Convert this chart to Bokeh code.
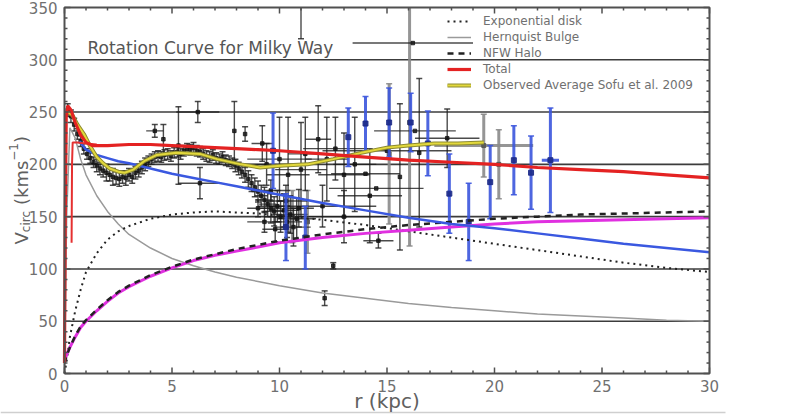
import numpy as np
from bokeh.plotting import figure
from bokeh.models import Range1d, Legend, LegendItem
from bokeh.core.properties import value
from bokeh.embed import file_html
from bokeh.resources import INLINE

# ---------------- model curves ----------------
r_model = [0, 0.1, 0.25, 0.5, 0.75, 1, 1.5, 2, 2.5, 3, 4, 5, 6, 7, 8, 9, 10,
           12, 14, 16, 18, 20, 22, 24, 26, 28, 30]
v_disk = [0, 12, 35, 60, 80, 97, 115, 128, 136, 141, 148, 152, 154, 155, 154,
          153, 151, 147, 142, 136, 130, 124, 118, 112, 106, 101, 97]
v_bulge = [0, 150, 235, 225, 205, 190, 170, 155, 143, 133, 120, 110, 103, 97,
           92, 88, 84, 77, 72, 67, 63, 60, 57, 55, 53, 51, 50]
v_halo = [10, 17, 25, 36, 45, 51, 61, 70, 78, 84, 94, 102, 109, 114, 119, 123,
          127, 133, 138, 142, 145, 148, 150, 152, 153, 154, 155]
v_halo_fit = [12, 18, 25, 35, 44, 50, 60, 69, 77, 83, 93, 101, 108, 113, 117,
              121, 125, 130, 134, 137, 140, 143, 145, 146, 147, 148, 149]

r_blue = [0.7, 0.85, 1, 1.5, 2, 2.5, 3, 4, 5, 6, 7, 8, 9, 10, 12, 14, 16, 18,
          20, 22, 24, 26, 28, 30]
v_blue = [222, 218, 214, 209, 206, 203, 201, 196, 191, 187, 183, 179, 175,
          171, 163, 156, 149, 143, 139, 134, 129, 124, 120, 116]

r_total = [0, 0.03, 0.08, 0.15, 0.3, 0.5, 0.75, 1.0, 1.3, 1.5, 2, 3, 4, 5, 6,
           7, 8, 9, 10, 12, 14, 16, 18, 20, 22, 24, 26, 28, 30]
v_total = [10, 140, 245, 256, 252, 240, 228, 221, 218, 218, 218, 219, 219,
           218, 217, 216, 215, 214, 213, 210, 207, 204, 202, 200, 197, 195,
           193, 190, 187]
r_total_b = [0.33, 0.35, 0.38, 0.6, 1.0, 1.5]
v_total_b = [125, 200, 221, 221, 220, 219]

r_obs = [0.15, 0.37, 0.6, 0.9, 1.2, 1.5, 1.8, 2.1, 2.5, 2.8, 3.2, 3.7, 4.3,
         5.2, 6.3, 7.1, 8.2, 9.1, 9.6, 10.2, 11.3, 12.5, 13.8, 15, 16, 17.2,
         18.3, 19.5]
v_obs = [250, 247, 238, 229, 217, 207, 201, 196, 193, 192, 195, 203, 209, 211,
         210, 205, 200, 197, 198, 199, 200, 205, 211, 216, 218, 220, 220, 221]

# ---------------- data points with error bars ----------------
black_r = [0.15, 0.3, 0.45, 0.6, 0.75, 0.9, 1.05, 1.2, 1.35, 1.5, 1.65, 1.8,
           1.95, 2.1, 2.25, 2.4, 2.55, 2.7, 2.85, 3.0, 3.15, 3.3, 3.45, 3.6,
           3.75, 3.9, 4.05, 4.2, 4.35, 4.5, 4.65, 4.8, 4.95, 5.1, 5.25, 5.4,
           5.55, 5.7, 5.85, 6.0, 6.15, 6.3, 6.45, 6.6, 6.75, 6.9, 7.05, 7.2,
           7.35, 7.5, 7.65, 7.8, 7.95, 8.1, 8.25, 8.4, 8.55, 8.7, 8.85, 9.0,
           9.15, 9.3, 9.45, 9.6, 9.75, 9.9, 10.05, 10.2, 10.35, 10.5, 10.65,
           10.8,
           4.2, 4.6, 5.3, 6.2, 6.3, 7.9, 8.4, 9.2, 9.4, 10.0, 10.4, 11.0, 11.2,
           11.8, 12.2, 12.6, 13.0, 13.5, 14.2, 14.6, 15.6, 16.5, 17.8, 12.1,
           12.5, 11.0, 16.2, 16.3, 15.0, 14.0, 14.5, 12.0, 13.0,
           9.3, 9.8, 10.3, 10.9, 9.0, 9.6]
black_v = [252, 246, 238, 229, 222, 215, 210, 206, 202, 199, 196, 194, 192,
           190, 188, 187, 186, 188, 187, 190, 188, 192, 194, 197, 200, 203,
           205, 207, 208, 207, 209, 210, 208, 211, 212, 210, 213, 215, 214,
           216, 213, 212, 210, 208, 207, 209, 206, 205, 207, 204, 203, 201,
           199, 196, 193, 190, 186, 182, 178, 174, 170, 166, 162, 158, 155,
           160, 150, 156, 145, 152, 140, 148,
           232, 224, 218, 250, 182, 232, 229, 220, 200, 205, 190, 195, 210,
           224, 205, 215, 190, 200, 170, 127, 188, 211, 225, 72, 103, 380,
           316, 232, 213, 191, 177, 160, 150,
           145, 138, 165, 158, 158, 175]
black_ve = [6, 6, 6, 5, 5, 5, 5, 5, 5, 6, 6, 6, 8, 6, 8, 6, 7, 6, 7, 6, 6, 6,
            6, 6, 6, 5, 5, 5, 5, 5, 5, 5, 5, 5, 5, 5, 5, 5, 5, 5, 5, 5, 5, 5,
            5, 5, 5, 5, 5, 5, 5, 5, 6, 6, 6, 7, 8, 8, 9, 10, 10, 12, 12, 14,
            14, 15, 15, 16, 15, 18, 18, 20,
            6, 14, 37, 10, 15, 28, 7, 17, 20, 40, 55, 45, 35, 32, 40, 30, 40,
            45, 45, 7, 70, 71, 28, 7, 3, 60, 0, 0, 0, 0, 0, 20, 25,
            10, 12, 15, 18, 8, 10]
black_re = [0] * 59 + [0.3, 0.3, 0.4, 0.4, 0.5, 0.5, 0.6, 0.6, 0.7, 0.7, 0.8,
                       0.8, 0.9,
                       0.4, 0, 0, 1.0, 1.0, 0, 0, 0.5, 1.2, 1.5, 1.0, 1.2,
                       0.8, 0.6, 1.0, 1.5, 1.2, 1.0, 1.5, 0.7, 0, 0, 1.5, 0,
                       0, 0, 2.8, 1.9, 3.0, 1.6, 2.2, 2.5, 2.0,
                       0.8, 0.6, 1.0, 0.7, 0.5, 0.9]

grey_r = [16.05, 15.1, 19.5, 20.2, 10.6, 11.3]
grey_v = [240, 210, 218, 200, 150, 145]
grey_ve = [118, 67, 30, 33, 25, 30]
grey_re = [0, 0, 2.3, 0, 0, 0]

blue_r = [9.7, 10.3, 11.2, 13.2, 14.0, 15.1, 16.1, 16.9, 17.9, 18.8, 19.8,
          20.9, 21.7, 22.6]
blue_v = [213, 140, 130, 226, 239, 240, 240, 220, 172, 145, 183, 204, 192,
          204]
blue_ve = [36, 32, 30, 28, 26, 33, 28, 31, 38, 37, 35, 33, 35, 50]
blue_re = [0, 0, 0, 0, 0, 0, 0, 0, 0, 0, 0, 0, 0, 0.4]

# ---------------- texts and axes ----------------
title_text = "Rotation Curve for Milky Way"
x_label = "r (kpc)"
x_ticks = [0, 5, 10, 15, 20, 25, 30]
x_tick_labels = ["0", "5", "10", "15", "20", "25", "30"]
y_ticks = [0, 50, 100, 150, 200, 250, 300, 350]
y_tick_labels = ["0", "50", "100", "150", "200", "250", "300", "350"]
legend_labels = ["Exponential disk", "Hernquist Bulge", "NFW Halo", "Total",
                 "Observed Average Sofu et al. 2009"]
y_pieces = ["V", "circ", "(kms", "\u22121", ")"]
X_MIN, X_MAX, Y_MIN, Y_MAX = 0, 30, 0, 350

FONT = "DejaVu Sans"
AX = "#505050"
TICKC = "#707070"

# pixel geometry of the plotting frame inside the 800 x 419 canvas
W, H = 800, 419
F_LEFT, F_RIGHT, F_TOP, F_BOTTOM = 64, 709, 7, 373
SX = (F_RIGHT - F_LEFT) / (X_MAX - X_MIN)      # px per kpc
SY = (F_BOTTOM - F_TOP) / (Y_MAX - Y_MIN)      # px per km/s


def dx(px):            # canvas x pixel -> data x
    return X_MIN + (px - F_LEFT) / SX


def dy(py):            # canvas y pixel (from top) -> data y
    return Y_MIN + (F_BOTTOM - py) / SY


p = figure(width=W, height=H, x_range=Range1d(dx(0), dx(W)),
           y_range=Range1d(dy(H), dy(0)), output_backend="svg",
           toolbar_location=None, x_axis_location=None,
           y_axis_location=None, min_border=0, title=None)
p.grid.visible = False
p.outline_line_color = None
p.background_fill_color = "white"
p.border_fill_color = "white"

# thin page rule under the chart
p.segment(x0=dx(0), y0=dy(412), x1=dx(725), y1=dy(412), line_color="#cfcfcf",
          line_width=1.5)

# horizontal grid lines
gy = [t for t in y_ticks if Y_MIN < t < Y_MAX]
p.segment(x0=X_MIN, y0=gy, x1=X_MAX, y1=gy, line_color="#3c3c3c",
          line_width=1.6)


def errorbars(rs, vs, ves, res, color, width, alpha, marker_color, msize):
    x0, y0, x1, y1 = [], [], [], []
    cx, cy = [], []
    for r, v, ve, re in zip(rs, vs, ves, res):
        if ve > 0:
            lo, hi = max(v - ve, Y_MIN), min(v + ve, Y_MAX)
            if lo < hi:
                x0.append(r); x1.append(r); y0.append(lo); y1.append(hi)
            for c in (v - ve, v + ve):
                if Y_MIN <= c <= Y_MAX:
                    cx.append(r); cy.append(c)
        if re > 0 and Y_MIN <= v <= Y_MAX:
            x0.append(max(r - re, X_MIN)); x1.append(min(r + re, X_MAX))
            y0.append(v); y1.append(v)
    p.segment(x0=x0, y0=y0, x1=x1, y1=y1, line_color=color,
              line_width=width, line_alpha=alpha)
    p.scatter(cx, cy, marker="dash", size=6, line_color=color,
              line_width=1.5, line_alpha=alpha)
    mx = [r for r, v in zip(rs, vs) if Y_MIN <= v <= Y_MAX]
    my = [v for v in vs if Y_MIN <= v <= Y_MAX]
    p.scatter(mx, my, marker="square", size=msize, fill_color=marker_color,
              line_color=marker_color, alpha=alpha)


errorbars(grey_r, grey_v, grey_ve, grey_re, "#8a8a8a", 3, 0.9, "#555555", 4)
errorbars(black_r, black_v, black_ve, black_re, "#1e1e1e", 1.4, 0.8,
          "#111111", 3.5)
errorbars(blue_r, blue_v, blue_ve, blue_re, "#3b55dd", 3, 0.9, "#1c2a88", 5)

# ---------------- model curves ----------------
r_bulge = p.line(r_model, v_bulge, line_color="#9a9a9a", line_width=1.5)
r_disk = p.line(r_model, v_disk, line_color="#222222", line_width=2,
                line_dash="2 4")
r_halofit = p.line(r_model, v_halo_fit, line_color="#e030e0", line_width=3)
r_halo = p.line(r_model, v_halo, line_color="#222222", line_width=2.5,
                line_dash="6 5")
p.line(r_blue, v_blue, line_color="#3a58e0", line_width=2.5)
r_obs_under = p.line(r_obs, v_obs, line_color="#8c8a30", line_width=4)
r_obs_line = p.line(r_obs, v_obs, line_color="#e2d83c", line_width=2)
p.line(r_total_b, v_total_b, line_color="#e53030", line_width=2)
r_tot = p.line(r_total, v_total, line_color="#e42222", line_width=3.2)

# ---------------- frame and inward ticks ----------------
p.line([X_MIN, X_MAX, X_MAX, X_MIN, X_MIN], [Y_MIN, Y_MIN, Y_MAX, Y_MAX, Y_MIN],
       line_color=AX, line_width=2)
xs_t = np.arange(X_MIN, X_MAX + 1, 1)
len_t = np.where(xs_t % 5 == 0, 6 / SY, 3 / SY)
p.segment(x0=xs_t, y0=Y_MAX, x1=xs_t, y1=Y_MAX - len_t, line_color=AX,
          line_width=1.5)
p.segment(x0=xs_t, y0=Y_MIN, x1=xs_t, y1=Y_MIN + len_t, line_color=AX,
          line_width=1.5)
ys_r = np.arange(Y_MIN, Y_MAX + 1, 10)
len_r = np.where(ys_r % 50 == 0, 6 / SX, 3 / SX)
p.segment(x0=X_MAX, y0=ys_r, x1=X_MAX - len_r, y1=ys_r, line_color=AX,
          line_width=1.5)
p.segment(x0=X_MIN, y0=ys_r, x1=X_MIN + len_r, y1=ys_r, line_color=AX,
          line_width=1.5)

# ---------------- tick labels and axis titles ----------------
p.text(x=x_ticks, y=[dy(F_BOTTOM + 6)] * len(x_ticks), text=x_tick_labels,
       text_font=value(FONT), text_font_size="15px", text_color=TICKC,
       text_align="center", text_baseline="top")
p.text(x=[dx(F_LEFT - 7)] * len(y_ticks), y=y_ticks, text=y_tick_labels,
       text_font=value(FONT), text_font_size="15px", text_color=TICKC,
       text_align="right", text_baseline="middle")
p.text(x=[(X_MIN + X_MAX) / 2], y=[dy(400)], text=[x_label],
       text_font=value(FONT), text_font_size="20px", text_color="#606060",
       text_align="center", text_baseline="middle")

piece_px = [21, 25, 21, 13, 21]
piece_py = [244, 231.7, 204.5, 160.2, 142.4]
piece_fs = ["18px", "12px", "18px", "12px", "18px"]
for t, xx, yy, fs in zip(y_pieces, piece_px, piece_py, piece_fs):
    p.text(x=[dx(xx)], y=[dy(yy)], text=[t], angle=np.pi / 2,
           text_font=value(FONT), text_font_size=fs, text_color="#606060",
           text_baseline="alphabetic", text_align="left")

p.text(x=[dx(87)], y=[dy(47)], text=[title_text], text_font=value(FONT),
       text_font_size="17px", text_color="#555555",
       text_baseline="alphabetic", text_align="left")

# ---------------- legend ----------------
legend = Legend(items=[
    LegendItem(label=legend_labels[0], renderers=[r_disk]),
    LegendItem(label=legend_labels[1], renderers=[r_bulge]),
    LegendItem(label=legend_labels[2], renderers=[r_halo]),
    LegendItem(label=legend_labels[3], renderers=[r_tot]),
    LegendItem(label=legend_labels[4], renderers=[r_obs_under, r_obs_line]),
], location=(447, H - 93))
legend.border_line_alpha = 0
legend.background_fill_alpha = 0
legend.padding = 0
legend.margin = 0
legend.spacing = 0
legend.glyph_width = 24
legend.glyph_height = 16
legend.label_height = 16
legend.label_standoff = 12
legend.label_text_font = FONT
legend.label_text_font_size = "12px"
legend.label_text_color = TICKC
p.add_layout(legend, "center")

open("out.html", "w").write(file_html(p, INLINE))
